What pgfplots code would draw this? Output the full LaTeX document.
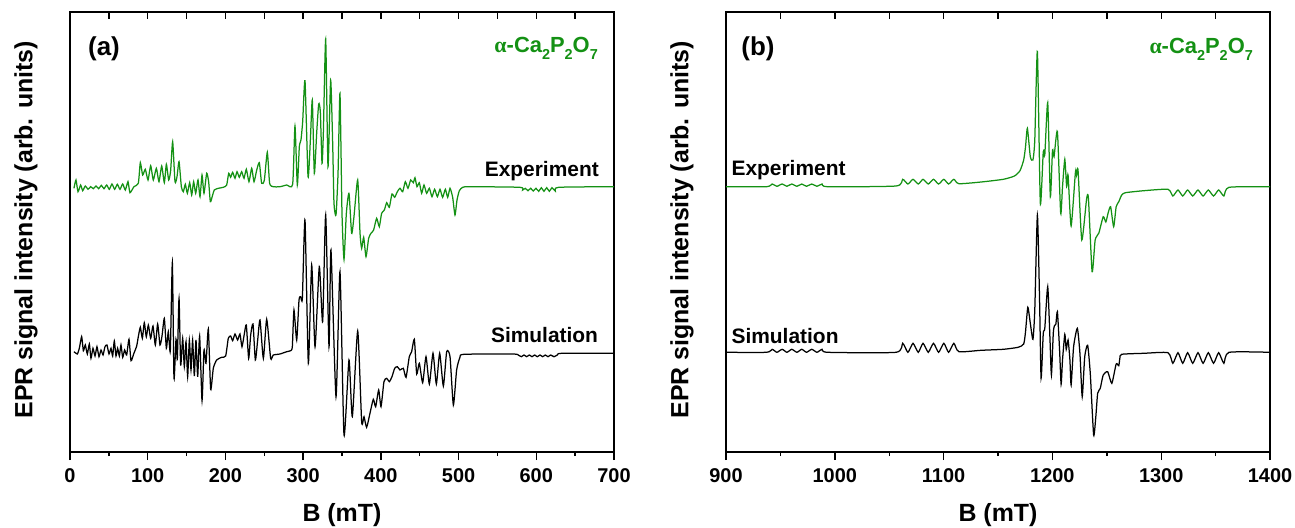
\documentclass[border=0pt]{standalone}
\usepackage{fontspec}
\setmainfont{Liberation Sans}
\newfontfamily\seriffont{Liberation Serif}
\usepackage{pgfplots}
\pgfplotsset{compat=1.18}
\definecolor{epgreen}{RGB}{20,145,20}
\newcommand\sub[1]{\raisebox{-7bp}{\fontsize{14.5}{15}\selectfont #1}}
\pgfplotsset{
  epr/.style={
    scale only axis, width=544bp, height=440bp, anchor=south west,
    ymin=76, ymax=516, ytick=\empty,
    axis line style={line width=1.4bp},
    tick style={line width=1.4bp, black},
    /pgf/number format/assume math mode=true,
    /pgf/number format/1000 sep={},
    xtick pos=left, tick align=outside,
    major tick length=8bp, minor tick length=4bp,
    xticklabel style={font=\fontsize{20}{24}\selectfont\bfseries, anchor=north, inner sep=0pt, yshift=-8bp},
    label style={font=\fontsize{25}{29}\selectfont\bfseries},
    xlabel style={at={(axis description cs:0.5,0)}, anchor=center, yshift=-63bp},
    ylabel style={at={(axis description cs:0,0.505)}, anchor=center, yshift=44bp},
    xlabel={B (mT)}, ylabel={EPR signal intensity (arb. units)},
  },
  toptick/.style={
    scale only axis, width=544bp, height=440bp, anchor=south west,
    ymin=76, ymax=516, axis x line*=top, axis y line=none,
    xticklabels={}, tick align=inside, major tick length=7bp,
    tick style={line width=1.4bp, black}, axis line style={line width=1.4bp},
  },
  trace/.style={line width=1.25bp, mark=none, smooth, tension=0.35},
}
\tikzset{txt/.style={font=\fontsize{21}{25}\selectfont\bfseries, inner sep=0pt}}
\begin{document}
\begin{tikzpicture}
\useasboundingbox (0,0) rectangle (1295bp,528bp);
% ---------------- panel (a)
\begin{axis}[epr, at={(70bp,76bp)}, xmin=0, xmax=700,
  xtick={0,100,...,700}, minor xtick={50,150,...,650}]
\addplot[epgreen, trace] coordinates {
(5.1,339.7)(7.7,348)(10.3,336.3)(13.7,343)(16.3,337.3)(19.7,342)(23.2,338.7)(26.6,341.3)(30.0,339.3)(33.5,342)(36.9,339.3)(40.3,342.7)(43.7,339.3)(47.2,343)(50.6,338.7)(54.0,344)(57.5,338.7)(60.9,343.7)(64.3,338.7)(67.8,344)(71.2,338)(74.6,346.3)(77.2,335.3)(82.3,341.3)(87.9,344.7)(90.5,365.3)(93.5,353)(96.9,358.7)(100.4,348)(103.8,362.3)(107.2,348)(111.1,359.7)(114.5,346.3)(118.0,362)(121.4,345.3)(124.0,363.7)(127.0,348)(129.5,357.3)(132.1,386.3)(135.1,346.3)(137.7,351.3)(140.3,366.3)(143.3,341.3)(145.8,336.3)(148.4,343.7)(151.0,334.7)(154.0,345.3)(156.6,333)(159.1,346.3)(161.7,334.7)(164.7,348)(167.3,331.3)(169.9,353)(172.4,334.7)(175.9,354.7)(178.4,346.3)(180.6,326.3)(183.2,332)(185.7,338)(190.9,339.7)(197.3,340.7)(201.6,343)(204.2,354.7)(206.7,350.7)(209.3,355.7)(212.3,349.7)(214.9,356.3)(217.9,350.7)(220.9,356.3)(223.9,349.7)(226.9,358.7)(230.3,346.3)(233.8,359.7)(236.8,346.3)(240.2,357.7)(243.6,365.3)(246.6,344.7)(250.1,348)(253.9,375.7)(256.9,344.7)(261.6,341.3)(270.2,341.3)(278.8,343)(286.5,343.7)(289.5,402)(292.5,343)(295.1,381.3)(297.2,388)(299.4,406.3)(302.4,447.3)(306.3,351.3)(309.3,388)(311.8,428)(314.4,354.7)(317.4,394.7)(320.0,424)(322.1,416.3)(324.3,364.7)(326.0,394.7)(329.0,488.7)(332.0,361.3)(335.4,448)(338.0,384.7)(339.7,324.7)(342.3,313)(344.9,354.7)(347.4,434.7)(350.0,314.7)(352.6,268.7)(355.6,314.7)(359.0,334.7)(362.4,294.7)(365.4,311.3)(370.2,348)(373.2,294.7)(375.3,279.7)(377.9,290.7)(380.9,271.3)(384.3,289.7)(387.3,294.7)(390.7,298)(394.6,309.7)(398.0,301.3)(401.0,314.7)(404.5,318)(407.5,325.3)(410.9,320.7)(414.3,334)(417.8,330.7)(421.2,336.3)(424.6,339.7)(428.1,336.3)(431.5,346.3)(434.9,339.7)(438.4,348)(441.8,345.3)(443.9,350.3)(446.5,341.3)(449.5,345.3)(452.5,334.7)(455.5,343)(458.9,334.7)(462.4,339.7)(465.8,331.3)(469.2,338.7)(472.7,331.3)(476.1,338.7)(479.5,330.7)(483.0,338.7)(486.0,330.7)(489.0,339.7)(492.4,330.7)(495.4,313)(498.0,328)(501.0,337.3)(505.3,340.7)(514.7,341.3)(579.0,340.7)(582.5,338)(585.9,339.7)(589.3,337.3)(592.8,339.7)(596.2,337)(599.6,339.7)(603.1,336.7)(606.5,340.3)(609.9,336.7)(613.4,340.3)(616.8,336.7)(620.2,340.3)(624.5,337)(628.8,340.7)(700,341.3)
};
\addplot[black, trace] coordinates {
(5.1,176.3)(9.4,174)(12.0,179.7)(15.0,191.3)(17.2,177.3)(19.7,183)(22.3,174)(24.9,184)(27.0,169.7)(29.6,179.7)(32.2,172)(34.7,181.3)(37.3,171.3)(39.9,178)(42.5,173)(45.0,181.3)(47.6,183)(50.2,174)(52.8,179.7)(54.9,172)(57.0,187)(59.2,172)(61.3,179.7)(63.5,172)(65.6,183)(67.8,170.7)(70.3,178)(72.9,173)(75.9,188.7)(78.5,167.3)(81.9,174)(85.8,182)(87.9,191.3)(90.5,200.7)(93.1,189.7)(95.6,205.3)(98.2,191.3)(100.8,203)(103.8,189.7)(106.8,202)(109.8,183)(112.8,204)(115.8,183)(118.4,192)(121.4,209.7)(124.0,179.7)(126.5,196.3)(129.1,177.3)(131.7,265.7)(133.8,149.7)(136.4,188.7)(138.1,168.7)(140.3,229.7)(142.4,163)(145.0,189.7)(147.1,161.3)(149.3,186.3)(151.4,151.3)(153.6,188)(155.7,158)(157.8,188)(160.0,152)(162.1,188)(164.3,151.3)(166.8,192)(169.9,127.3)(172.4,178)(175.0,164.7)(178.0,199)(181.0,138.7)(184.4,159.7)(188.7,168)(195.2,170.7)(200.3,172)(203.7,189.7)(206.7,192)(209.3,187.3)(212.3,194)(215.7,188)(218.7,194)(221.3,181.3)(224.3,194)(226.9,203)(229.9,169.7)(232.5,193)(235.5,204)(238.5,168)(241.5,188)(244.5,208)(248.8,169.7)(253.1,208.7)(258.2,169.7)(261.6,173)(270.2,174)(278.8,176.3)(283.9,177.3)(286.1,181.3)(288.2,218)(291.7,188)(294.7,228)(296.8,231.3)(299.0,229.7)(302.4,308)(306.7,164.7)(311.0,263)(315.3,181.3)(320.8,261.3)(325.1,206.3)(329.0,313)(333.3,181.3)(335.8,278)(342.3,131.3)(347.4,256.3)(352.6,93)(359.0,168)(363.3,111.3)(370.2,197)(375.3,106.3)(378.3,111.3)(381.7,100.7)(386.0,114.7)(390.3,128.7)(393.3,121.3)(397.2,138)(400.2,121.3)(404.0,146.3)(407.5,149.7)(410.9,146.3)(414.3,151.3)(417.8,159.7)(421.2,161.3)(424.6,158)(428.9,159.7)(432.4,150.7)(436.6,171.3)(439.6,176.3)(443.1,188.7)(446.1,154)(449.5,164.7)(453.8,145.3)(458.1,171.3)(462.4,144)(467.1,174.7)(471.4,144)(475.7,174.7)(480.4,142)(484.7,176.3)(489.0,171.3)(493.3,123)(497.5,158)(501.8,170.7)(507.0,173.7)(570.5,174)(577.3,172.7)(580.8,171.3)(584.2,173)(587.6,171.3)(591.1,173)(594.5,171.3)(597.9,173)(601.3,171.3)(604.8,173)(608.2,171.3)(611.6,173)(615.1,171.3)(618.5,173)(622.8,171.3)(627.1,173)(632.7,174.7)(700,174.7)
};
\node[txt, anchor=west, font=\fontsize{26}{30}\selectfont\bfseries] at (rel axis cs:0.033,0.916) {(a)};
\node[txt, anchor=base east, text=epgreen, font=\fontsize{22}{26}\selectfont\bfseries] at (rel axis cs:0.9706,0.9084) {{\seriffont α}-Ca\sub{2}P\sub{2}O\sub{7}};
\node[txt, anchor=base east] at (rel axis cs:0.9724,0.627) {Experiment};
\node[txt, anchor=base east] at (rel axis cs:0.971,0.2484) {Simulation};
\end{axis}
\begin{axis}[toptick, at={(70bp,76bp)}, xmin=0, xmax=700, xtick={0,50,...,700}]
\end{axis}
% ---------------- panel (b)
\begin{axis}[epr, at={(726bp,76bp)}, xmin=900, xmax=1400,
  xtick={900,1000,...,1400}, minor xtick={950,1050,...,1350}]
\addplot[epgreen, trace] coordinates {
(900,341.3)(937.3,341.3)(942.4,344)(946.8,341.7)(951.6,344)(956.0,341.7)(960.4,344)(965.2,341.7)(969.6,344)(974.0,341.7)(978.8,344)(983.6,341.7)(988.3,344)(993.4,341.3)(1056.3,342)(1062.4,348.7)(1067.2,344)(1071.9,348.7)(1076.7,344)(1081.1,348.7)(1085.9,344)(1090.7,348.7)(1095.4,344)(1100.2,348.7)(1104.6,344)(1109.4,348.7)(1114.1,344.3)(1134.5,346)(1154.9,348.7)(1165.1,352)(1170.2,357.3)(1173.6,368)(1175.3,381.3)(1177.0,399.7)(1179.7,371.3)(1182.1,368)(1183.8,388)(1186.2,476.3)(1188.9,324.7)(1191.6,376.3)(1193.0,373)(1195.7,425.3)(1198.1,331.3)(1200.1,378)(1201.5,371.3)(1204.6,396.3)(1207.6,314.7)(1209.3,341.3)(1211.4,368.7)(1213.1,341.3)(1214.4,353)(1217.2,302)(1221.2,356.3)(1222.2,353)(1223.6,357.3)(1227.0,288)(1231.4,328.7)(1233.1,329.7)(1236.5,256.3)(1239.3,288)(1242.7,295)(1246.7,311.3)(1249.1,306)(1251.2,315)(1253.5,321.3)(1256.3,301.3)(1258.6,321.3)(1261.0,326.3)(1263.7,333)(1267.1,335.3)(1284.1,337.3)(1306.2,338.7)(1310.7,332)(1315.4,338)(1319.8,332)(1324.3,338)(1329.0,332)(1333.8,338)(1338.5,332)(1343.3,338)(1348.1,332)(1352.8,338)(1357.6,332)(1362.3,340.7)(1400,341.3)
};
\addplot[black, trace] coordinates {
(900,175.7)(937.3,175.7)(942.4,178.7)(946.8,175.7)(951.6,178.7)(956.0,175.7)(960.4,178.7)(965.2,175.7)(969.6,178.7)(974.0,175.7)(978.8,178.7)(983.6,175.7)(988.3,178.7)(993.4,175.7)(1056.3,175.7)(1062.4,184.7)(1067.2,175.7)(1071.9,184.7)(1076.7,175.7)(1081.1,184.7)(1085.9,175.7)(1090.7,184.7)(1095.4,175.7)(1100.2,184.7)(1104.6,175.7)(1109.4,184.7)(1114.1,176.3)(1134.5,177.7)(1154.9,178.7)(1168.5,180.7)(1173.6,184)(1175.3,196.3)(1177.4,220.7)(1179.7,204.7)(1182.1,188.7)(1183.8,218)(1186.2,313)(1188.2,228)(1189.6,149.7)(1191.6,194.7)(1193.0,199.7)(1195.7,241.3)(1197.8,188)(1199.1,153)(1200.8,194.7)(1201.8,202)(1203.2,204)(1204.6,216.3)(1206.6,178)(1208.0,143.7)(1209.3,168)(1211.4,193.7)(1212.7,178.7)(1214.4,188)(1216.1,168)(1217.2,143)(1219.5,181.3)(1222.9,199.7)(1225.3,174.7)(1227.4,131.3)(1229.7,171.3)(1232.4,182.7)(1234.8,154.7)(1237.9,93)(1239.9,111.3)(1241.6,134.7)(1244.0,139.7)(1246.7,153)(1250.8,156.3)(1254.6,144.7)(1258.6,164)(1261.0,162.3)(1262.0,169.7)(1263.7,173.7)(1284.1,174.7)(1306.2,175.3)(1310.7,164.7)(1315.4,175.3)(1319.8,164.7)(1324.3,175.3)(1329.0,164.7)(1333.8,175.3)(1338.5,164.7)(1343.3,175.3)(1348.1,164.7)(1352.8,175.3)(1357.6,164.7)(1362.3,175.7)(1400,175.7)
};
\node[txt, anchor=west, font=\fontsize{26}{30}\selectfont\bfseries] at (rel axis cs:0.028,0.916) {(b)};
\node[txt, anchor=base east, text=epgreen, font=\fontsize{22}{26}\selectfont\bfseries] at (rel axis cs:0.9688,0.906) {{\seriffont α}-Ca\sub{2}P\sub{2}O\sub{7}};
\node[txt, anchor=base west] at (rel axis cs:0.0099,0.628) {Experiment};
\node[txt, anchor=base west] at (rel axis cs:0.0099,0.2455) {Simulation};
\end{axis}
\begin{axis}[toptick, at={(726bp,76bp)}, xmin=900, xmax=1400, xtick={900,950,...,1400}]
\end{axis}
\end{tikzpicture}
\end{document}
